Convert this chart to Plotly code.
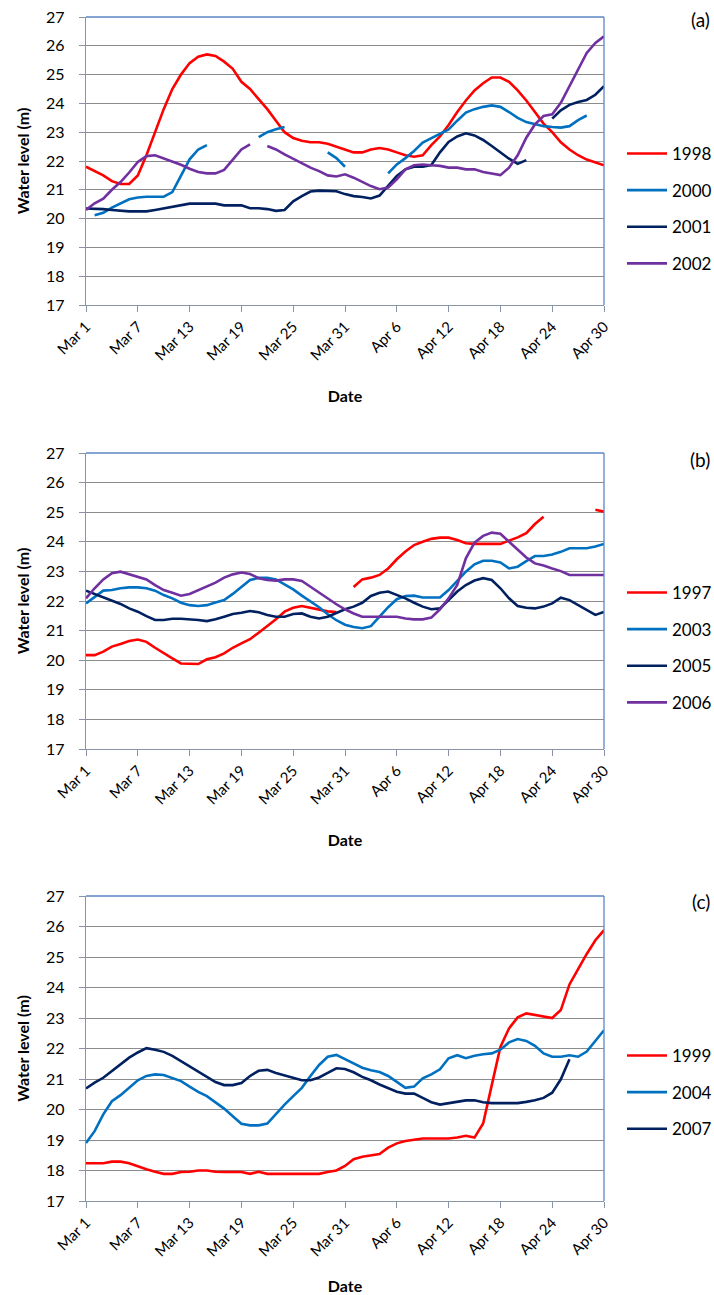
import plotly.graph_objects as go
import pandas as pd

# ---------------- data ----------------
dates = pd.date_range("2001-03-01", "2001-04-30", freq="D")  # Mar 1 .. Apr 30 (61 days)
N = None

# Panel (a)
a_1998 = [21.8, 21.65, 21.5, 21.3, 21.2, 21.2, 21.5, 22.2, 23.0, 23.8,
          24.5, 25.0, 25.4, 25.62, 25.7, 25.65, 25.45, 25.2, 24.75, 24.5,
          24.15, 23.8, 23.4, 23.0, 22.8, 22.7, 22.65, 22.65, 22.6, 22.5,
          22.4, 22.3, 22.3, 22.4, 22.45, 22.4, 22.3, 22.2, 22.15, 22.2,
          22.55, 22.85, 23.25, 23.7, 24.1, 24.45, 24.7, 24.9, 24.9, 24.75,
          24.45, 24.1, 23.7, 23.3, 23.0, 22.65, 22.4, 22.2, 22.05, 21.95,
          21.85]
a_2000 = [N, 20.12, 20.2, 20.38, 20.53, 20.67, 20.73, 20.76, 20.76, 20.76,
          20.92, 21.5, 22.06, 22.4, 22.55, N, N, N, N, N,
          22.83, 23.0, 23.1, 23.18, N, N, N, N, 22.3, 22.1,
          21.8, N, N, N, N, 21.57, 21.88, 22.1, 22.35, 22.64,
          22.8, 22.95, 23.1, 23.4, 23.68, 23.8, 23.88, 23.93, 23.88, 23.7,
          23.5, 23.35, 23.27, 23.21, 23.18, 23.16, 23.21, 23.42, 23.58, N,
          N]
a_2001 = [20.35, 20.35, 20.33, 20.3, 20.27, 20.25, 20.25, 20.25, 20.3, 20.36,
          20.42, 20.47, 20.52, 20.52, 20.52, 20.52, 20.46, 20.46, 20.46, 20.36,
          20.36, 20.33, 20.27, 20.3, 20.6, 20.78, 20.94, 20.97, 20.97, 20.95,
          20.85, 20.78, 20.75, 20.7, 20.8, 21.13, 21.48, 21.71, 21.8, 21.8,
          21.86, 22.3, 22.66, 22.85, 22.96, 22.89, 22.73, 22.52, 22.29, 22.08,
          21.9, 22.03, N, N, 23.47, 23.76, 23.95, 24.05, 24.12, 24.3,
          24.6]
a_2002 = [20.3, 20.53, 20.69, 21.0, 21.27, 21.6, 21.97, 22.17, 22.2, 22.09,
          21.98, 21.87, 21.73, 21.62, 21.57, 21.57, 21.69, 22.06, 22.4, 22.58,
          N, 22.52, 22.4, 22.23, 22.08, 21.92, 21.77, 21.65, 21.5, 21.46,
          21.54, 21.42, 21.27, 21.13, 21.02, 21.08, 21.36, 21.71, 21.85, 21.88,
          21.85, 21.83, 21.77, 21.77, 21.71, 21.71, 21.62, 21.57, 21.51, 21.77,
          22.2, 22.81, 23.27, 23.56, 23.62, 24.02, 24.6, 25.14, 25.75, 26.1,
          26.33]

# Panel (b)
b_1997 = [20.17, 20.17, 20.29, 20.46, 20.55, 20.65, 20.7, 20.62, 20.42, 20.23,
          20.06, 19.89, 19.87, 19.87, 20.03, 20.1, 20.23, 20.42, 20.57, 20.71,
          20.93, 21.15, 21.38, 21.64, 21.77, 21.83, 21.77, 21.7, 21.65, 21.63,
          N, 22.47, 22.73, 22.79, 22.88, 23.1, 23.41, 23.67, 23.89, 24.0,
          24.1, 24.14, 24.14, 24.06, 23.95, 23.93, 23.93, 23.93, 23.93, 24.04,
          24.15, 24.29, 24.6, 24.85, N, N, N, N, N, 25.08,
          25.02]
b_2003 = [21.92, 22.15, 22.35, 22.37, 22.43, 22.46, 22.46, 22.43, 22.35, 22.2,
          22.09, 21.94, 21.86, 21.83, 21.86, 21.95, 22.03, 22.24, 22.48, 22.71,
          22.78, 22.78, 22.73, 22.57, 22.39, 22.18, 21.98, 21.79, 21.55, 21.35,
          21.2, 21.12, 21.08, 21.15, 21.47, 21.79, 22.06, 22.17, 22.18, 22.12,
          22.12, 22.12, 22.37, 22.69, 22.99, 23.24, 23.36, 23.36, 23.3, 23.1,
          23.16, 23.35, 23.52, 23.52, 23.57, 23.66, 23.78, 23.78, 23.78, 23.84,
          23.93]
b_2005 = [22.35, 22.24, 22.12, 22.0, 21.9, 21.75, 21.64, 21.49, 21.36, 21.36,
          21.4, 21.4, 21.39, 21.36, 21.32, 21.38, 21.47, 21.56, 21.6, 21.66,
          21.62, 21.53, 21.47, 21.47, 21.56, 21.58, 21.47, 21.41, 21.47, 21.6,
          21.72, 21.81, 21.94, 22.17, 22.28, 22.32, 22.2, 22.09, 21.94, 21.81,
          21.72, 21.75, 22.03, 22.32, 22.54, 22.69, 22.77, 22.71, 22.43, 22.09,
          21.83, 21.77, 21.75, 21.81, 21.92, 22.11, 22.03, 21.86, 21.7, 21.53,
          21.63]
b_2006 = [22.09, 22.43, 22.73, 22.94, 22.99, 22.91, 22.82, 22.73, 22.54, 22.37,
          22.28, 22.18, 22.24, 22.37, 22.51, 22.62, 22.79, 22.9, 22.96, 22.91,
          22.77, 22.71, 22.69, 22.73, 22.73, 22.68, 22.48, 22.28, 22.08, 21.89,
          21.72, 21.58, 21.47, 21.47, 21.47, 21.47, 21.47, 21.41, 21.38, 21.38,
          21.44, 21.72, 22.09, 22.54, 23.44, 23.97, 24.2, 24.31, 24.27, 24.0,
          23.72, 23.47, 23.27, 23.2, 23.1, 23.01, 22.88, 22.88, 22.88, 22.88,
          22.88]

# Panel (c)
c_1999 = [18.24, 18.24, 18.24, 18.29, 18.29, 18.24, 18.13, 18.04, 17.96, 17.89,
          17.89, 17.95, 17.96, 18.0, 18.0, 17.96, 17.95, 17.95, 17.95, 17.89,
          17.96, 17.89, 17.89, 17.89, 17.89, 17.89, 17.89, 17.89, 17.95, 18.0,
          18.15, 18.37, 18.45, 18.5, 18.54, 18.75, 18.89, 18.97, 19.02, 19.05,
          19.05, 19.05, 19.05, 19.08, 19.14, 19.08, 19.54, 20.8, 22.05, 22.66,
          23.02, 23.15, 23.1, 23.05, 23.0, 23.26, 24.1, 24.6, 25.1, 25.55,
          25.88]
c_2004 = [18.9, 19.29, 19.84, 20.27, 20.47, 20.71, 20.96, 21.1, 21.15, 21.13,
          21.02, 20.93, 20.75, 20.58, 20.44, 20.25, 20.03, 19.78, 19.53, 19.48,
          19.48, 19.54, 19.86, 20.16, 20.44, 20.71, 21.1, 21.46, 21.73, 21.79,
          21.65, 21.51, 21.37, 21.29, 21.23, 21.1, 20.91, 20.71, 20.75, 21.02,
          21.15, 21.32, 21.68, 21.78, 21.68, 21.76, 21.81, 21.84, 21.96, 22.2,
          22.31, 22.25, 22.09, 21.84, 21.73, 21.73, 21.78, 21.73, 21.9, 22.25,
          22.6]
c_2007 = [20.69, 20.88, 21.04, 21.26, 21.51, 21.7, 21.87, 22.01, 21.96, 21.89,
          21.76, 21.59, 21.43, 21.26, 21.07, 20.9, 20.8, 20.8, 20.87, 21.1,
          21.27, 21.3, 21.2, 21.12, 21.03, 20.96, 20.96, 21.05, 21.2, 21.35,
          21.33, 21.22, 21.07, 20.96, 20.82, 20.69, 20.58, 20.52, 20.52, 20.38,
          20.24, 20.16, 20.2, 20.24, 20.3, 20.3, 20.24, 20.21, 20.21, 20.21,
          20.21, 20.25, 20.3, 20.38, 20.55, 20.99, 21.65, N, N, N,
          N]

panels = [
    ("(a)", [("1998", a_1998), ("2000", a_2000), ("2001", a_2001), ("2002", a_2002)]),
    ("(b)", [("1997", b_1997), ("2003", b_2003), ("2005", b_2005), ("2006", b_2006)]),
    ("(c)", [("1999", c_1999), ("2004", c_2004), ("2007", c_2007)]),
]
panel_colors = [
    ["#ff0000", "#0070c0", "#002060", "#7030a0"],
    ["#ff0000", "#0070c0", "#002060", "#7030a0"],
    ["#ff0000", "#0070c0", "#002060"],
]

# ---------------- layout geometry (pixels) ----------------
W, H = 714, 1295
ML, MR, MT, MB = 86, 110, 17, 94
PW = W - ML - MR
PH = H - MT - MB
bottom_px = H - MB


def py(p):
    return (bottom_px - p) / PH


def cx(p):
    return p / W


def cy(p):
    return 1 - p / H


domains = [(py(305), 1.0), (py(749), py(453)), (0.0, py(896))]
legend_top = [136, 575, 1038]
label_y = [20, 460, 901]

FONT = "Lato, 'Open Sans', sans-serif"
GRID = "#8c8c8c"
AXIS = "#8a94a6"
BORDER = "#5b87c5"

fig = go.Figure()
layout = dict(
    width=W, height=H,
    margin=dict(l=ML, r=MR, t=MT, b=MB, autoexpand=False),
    paper_bgcolor="white", plot_bgcolor="white",
    font=dict(family=FONT, color="black", size=15),
    showlegend=True,
    shapes=[], annotations=[],
)

for i, ((label, series), colors) in enumerate(zip(panels, panel_colors)):
    n = i + 1
    xa = "x" if n == 1 else f"x{n}"
    ya = "y" if n == 1 else f"y{n}"
    lg = "legend" if n == 1 else f"legend{n}"
    for (name, vals), col in zip(series, colors):
        fig.add_trace(go.Scatter(
            x=dates, y=vals, name=name, mode="lines",
            line=dict(color=col, width=2.6),
            connectgaps=False, xaxis=xa, yaxis=ya,
            legend=lg, legendgroup=f"{label}{name}",
        ))
    layout[f"xaxis{'' if n == 1 else n}"] = dict(
        domain=[0, 1], anchor=ya, type="date", automargin=False,
        range=["2001-03-01", "2001-04-30"],
        tick0="2001-03-01", dtick=6 * 86400000, tickformat="%b %-d",
        tickangle=-45, tickfont=dict(size=15),
        ticks="outside", ticklen=6, tickcolor=AXIS,
        showline=True, linecolor=AXIS, linewidth=1.3,
        showgrid=False, zeroline=False,
        title=dict(text="Date", font=dict(size=16, weight="bold"), standoff=28),
    )
    layout[f"yaxis{'' if n == 1 else n}"] = dict(
        domain=list(domains[i]), anchor=xa, automargin=False,
        range=[17, 27], dtick=1, tick0=17,
        ticks="outside", ticklen=6, tickcolor=AXIS,
        tickfont=dict(size=16), ticklabelstandoff=11,
        showline=True, linecolor=AXIS, linewidth=1.3,
        showgrid=True, gridcolor=GRID, gridwidth=1.2, zeroline=False,
        title=dict(text="Water level (m)", font=dict(size=16, weight="bold"), standoff=12),
    )
    # blue plot-area border (top and right)
    layout["shapes"] += [
        dict(type="line", xref=f"{xa} domain", yref=f"{ya} domain",
             x0=0, x1=1, y0=1, y1=1, line=dict(color=BORDER, width=1.3), layer="above"),
        dict(type="line", xref=f"{xa} domain", yref=f"{ya} domain",
             x0=1, x1=1, y0=0, y1=1, line=dict(color=BORDER, width=1.3), layer="above"),
    ]
    layout["annotations"].append(dict(
        text=label, xref="paper", yref="paper", x=(712 - ML) / PW, y=py(label_y[i]),
        xanchor="right", yanchor="middle", showarrow=False, font=dict(size=19),
    ))
    layout[lg] = dict(
        xref="container", yref="container",
        x=cx(622), y=cy(legend_top[i]), xanchor="left", yanchor="top",
        font=dict(size=17), tracegroupgap=11.5, bgcolor="rgba(0,0,0,0)",
        itemwidth=40,
    )

fig.update_layout(**layout)
fig.write_html("out.html", config={"displayModeBar": False},
               post_script="document.body.style.margin='0';")
